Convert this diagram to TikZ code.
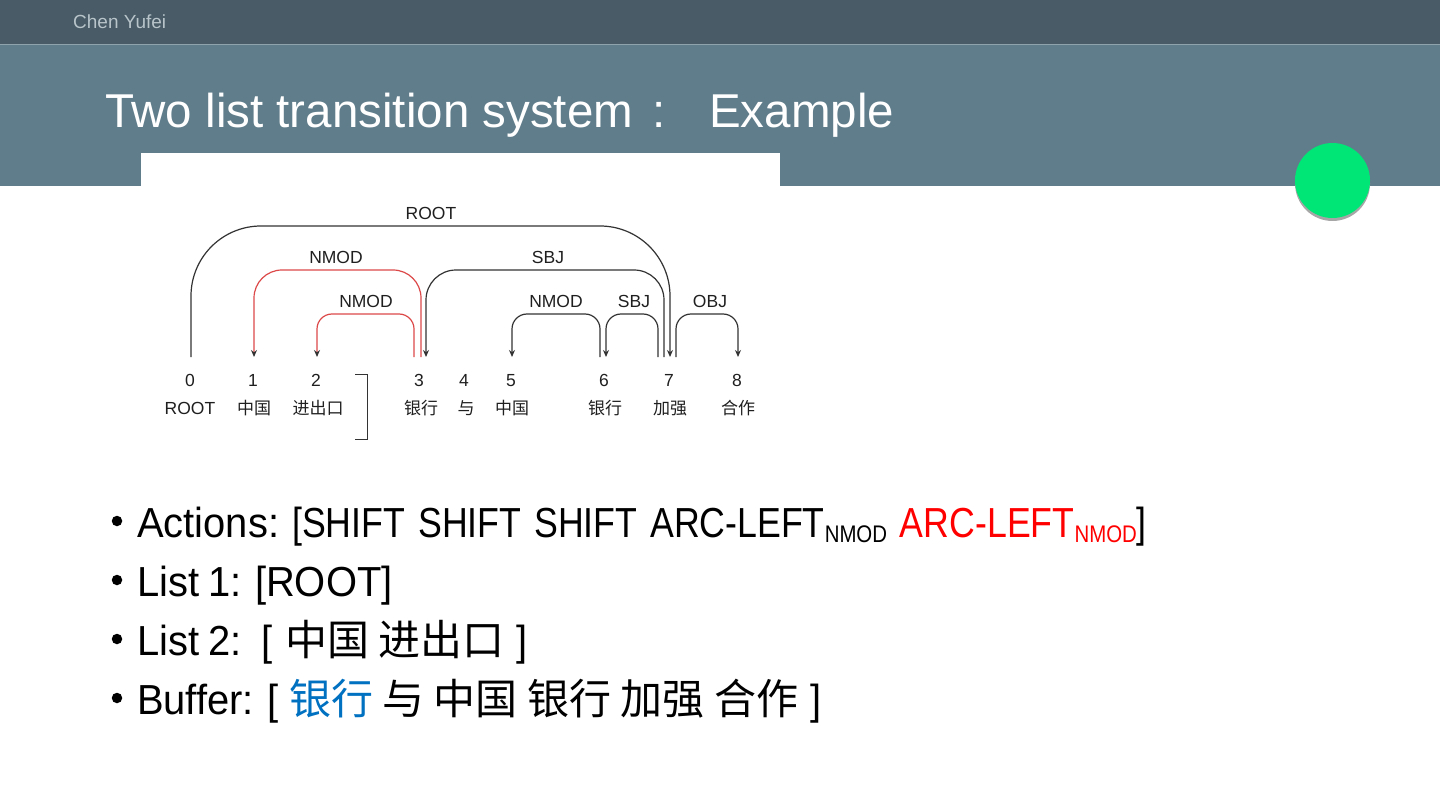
\documentclass[tikz,border=0pt]{standalone}
\usepackage{fontspec}
\setmainfont{Liberation Sans}
\newfontfamily\cjk{Noto Sans CJK SC}
\newfontfamily\listfont[FakeStretch=0.95, WordSpace={0.85,0,0}]{Liberation Sans}
\newfontfamily\actfont[FakeStretch=0.85, WordSpace={1.3,0,0}]{Liberation Sans}
\usetikzlibrary{arrows.meta, positioning}

\definecolor{barDark}{HTML}{485B66}
\definecolor{barLine}{HTML}{8FA3AD}
\definecolor{band}{HTML}{607D8B}
\definecolor{dotGreen}{HTML}{00E676}
\definecolor{authorGray}{HTML}{B8C4CA}
\definecolor{arcRed}{HTML}{DC4848}
\definecolor{actRed}{HTML}{FF0000}
\definecolor{bufBlue}{HTML}{0070C0}

\newcommand{\nsub}[1]{\raisebox{-5pt}{\fontsize{24}{26}\selectfont #1}}

\begin{document}
\begin{tikzpicture}[x=1pt, y=-1pt,
    tok/.style={inner sep=0pt, text height=12pt, outer xsep=0pt, outer ysep=17pt, anchor=base, font=\fontsize{17.5}{20}\selectfont, text=black!88},
    wrd/.style={inner sep=0pt, anchor=base, font=\fontsize{17}{20}\selectfont\cjk, text=black!88},
    lbl/.style={inner sep=0pt, anchor=base, font=\fontsize{17.5}{20}\selectfont, text=black!88},
    arc/.style={draw=black!80, line width=1.2pt, rounded corners=15pt, -{Stealth[length=7pt, width=6pt]}},
    redarc/.style={arc, draw=arcRed, -{Stealth[length=7pt, width=6pt, color=black!80]}},
    item/.style={anchor=base west, inner sep=0pt, font=\fontsize{42}{50}\listfont},
    dot/.style={circle, fill=black, inner sep=0pt, minimum size=10.5pt}]
    \useasboundingbox (0,0) rectangle (1440,810);

    % slide frame
    \fill[barDark] (0,0) rectangle (1440,44);
    \fill[band] (0,44) rectangle (1440,186);
    \draw[barLine, line width=1pt] (0,44.5) -- (1440,44.5);
    \fill[white] (141,153) rectangle (780,200);
    \fill[black!35] (1332.5,183.5) circle (37.5pt);
    \fill[dotGreen] (1332.5,180.5) circle (37.5pt);

    \node[anchor=base west, inner sep=0pt, text=authorGray, font=\fontsize{19}{22}\selectfont] (author) at (73,29) {Chen Yufei};
    \node[anchor=base west, inner sep=0pt, text=white, font=\fontsize{47.5}{56}\selectfont] (title) at (105,128) {Two list transition system\hspace{19pt}:\hspace{44pt}Example};

    % tokens
    \node[tok] (n0) at (190,386) {0};
    \node[tok] (n1) at (253,386) {1};
    \node[tok] (n2) at (316,386) {2};
    \node[tok] (n3) at (419,386) {3};
    \node[tok] (n4) at (464,386) {4};
    \node[tok] (n5) at (511,386) {5};
    \node[tok] (n6) at (604,386) {6};
    \node[tok] (n7) at (669,386) {7};
    \node[tok] (n8) at (737,386) {8};

    \node[lbl] (w0) at (190,414) {ROOT};
    \node[wrd] (w1) at (254,414) {中国};
    \node[wrd] (w2) at (318,414) {进出口};
    \node[wrd] (w3) at (421,414) {银行};
    \node[wrd] (w4) at (466,414) {与};
    \node[wrd] (w5) at (512,414) {中国};
    \node[wrd] (w6) at (605,414) {银行};
    \node[wrd] (w7) at (670,414) {加强};
    \node[wrd] (w8) at (738,414) {合作};

    \draw[black!80, line width=1pt] (355,374.5) -- (367,374.5) -- (367,439) -- (355,439);

    % arcs
    \draw[arc, rounded corners=70pt] ([xshift=1pt]n0.north) -- ++(0,-131) -| ([xshift=1pt]n7.north);
    \draw[redarc, rounded corners=28pt] ([xshift=2pt]n3.north) -- ++(0,-87) -| ([xshift=1pt]n1.north);
    \draw[redarc, rounded corners=15pt] ([xshift=-5pt]n3.north) -- ++(0,-43) -| ([xshift=1pt]n2.north);
    \draw[arc, rounded corners=30pt] ([xshift=-5pt]n7.north) -- ++(0,-87) -| ([xshift=7pt]n3.north);
    \draw[arc] ([xshift=-4pt]n6.north) -- ++(0,-43) -| ([xshift=1pt]n5.north);
    \draw[arc] ([xshift=-11pt]n7.north) -- ++(0,-43) -| ([xshift=2pt]n6.north);
    \draw[arc] ([xshift=7pt]n7.north) -- ++(0,-43) -| ([xshift=1pt]n8.north);

    \node[lbl] (rootlbl) at (431,220) {ROOT};
    \node[lbl] (nmodA) at (336,264) {NMOD};
    \node[lbl] (nmodB) at (366,308) {NMOD};
    \node[lbl] (sbjA) at (548,264) {SBJ};
    \node[lbl] (nmodC) at (556,308) {NMOD};
    \node[lbl] (sbjB) at (634,308) {SBJ};
    \node[lbl] (objA) at (710,308) {OBJ};

    % bullets
    \node[dot] (d1) at (117,521) {};
    \node[dot] (d2) at (117,580) {};
    \node[dot] (d3) at (117,639) {};
    \node[dot] (d4) at (117,698) {};
    \node[item] (actions) at (137,537) {Actions: {\actfont [SHIFT SHIFT SHIFT ARC-LEFT\nsub{NMOD} \textcolor{actRed}{ARC-LEFT\nsub{NMOD}}]}};
    \node[item] (list1) at (137,596) {List 1: [ROOT]};
    \node[item] (list2) at (137,655) {List 2:\hspace{20pt}[\hspace{12pt}{\cjk 中国 进出口}\hspace{12pt}]};
    \node[item] (buffer) at (137,714) {Buffer:\hspace{14pt}[\hspace{10pt}{\cjk\textcolor{bufBlue}{银行} 与 中国 银行 加强 合作}\hspace{12pt}]};
\end{tikzpicture}
\end{document}
